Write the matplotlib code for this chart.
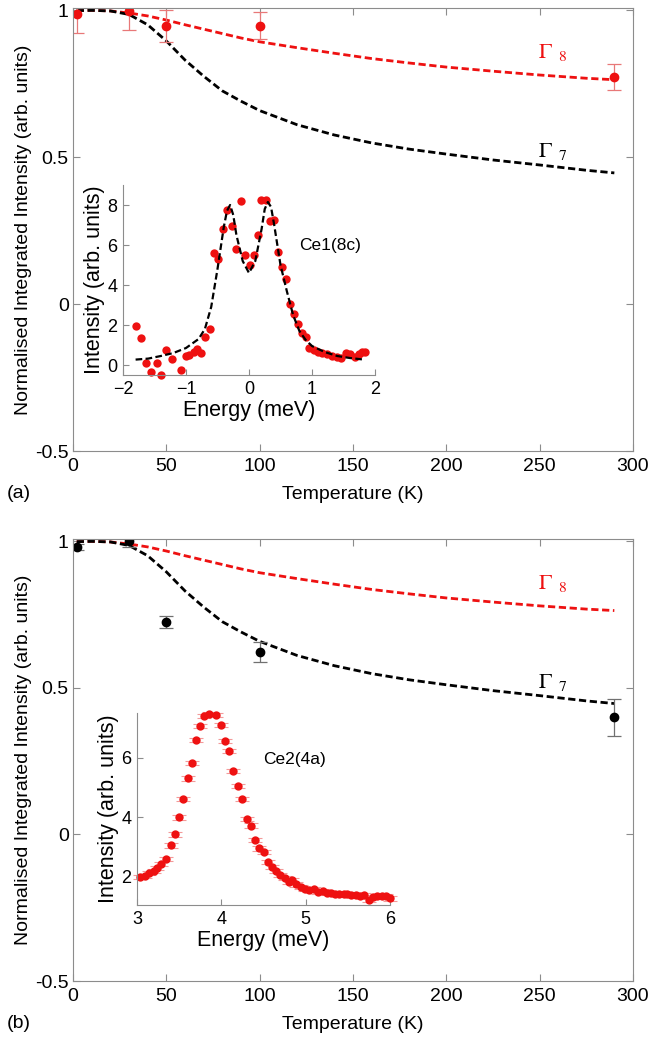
import matplotlib
matplotlib.use("Agg")
import matplotlib.pyplot as plt

plt.rcParams['font.family'] = ['Liberation Sans', 'DejaVu Sans']
plt.rcParams['mathtext.fontset'] = 'stix'

# model curves (same in both panels)
T_fit = [2, 10, 20, 30, 40, 50, 60, 70, 80, 90, 100, 120, 140, 160, 180, 200, 225, 250, 275, 290]
gamma8 = [0.998, 0.999, 0.997, 0.99, 0.98, 0.966, 0.95, 0.935, 0.92, 0.905, 0.892,
          0.872, 0.853, 0.835, 0.82, 0.806, 0.792, 0.779, 0.768, 0.763]
gamma7 = [0.998, 0.999, 0.997, 0.985, 0.95, 0.895, 0.83, 0.775, 0.725, 0.69, 0.658,
          0.61, 0.575, 0.548, 0.527, 0.51, 0.49, 0.473, 0.455, 0.446]

# panel (a) Ce1 data
T_a = [2, 30, 50, 100, 290]
I_a = [0.985, 0.998, 0.946, 0.946, 0.772]
err_a = [0.062, 0.066, 0.055, 0.046, 0.045]

# panel (b) Ce2 data
T_b = [2, 30, 50, 100, 290]
I_b = [0.981, 1.0, 0.723, 0.621, 0.399]
err_b = [0.01, 0.02, 0.02, 0.035, 0.064]

# inset (a) spectrum
E_a = [-1.786, -1.712, -1.627, -1.553, -1.458, -1.39, -1.31, -1.22, -1.073, -0.993,
       -0.95, -0.88, -0.82, -0.76, -0.703, -0.624, -0.56, -0.486, -0.412, -0.349,
       -0.275, -0.2, -0.132, -0.069, 0.01, 0.074, 0.137, 0.196, 0.27, 0.328,
       0.396, 0.454, 0.518, 0.587, 0.645, 0.713, 0.777, 0.84, 0.909, 0.956,
       1.025, 1.094, 1.157, 1.236, 1.316, 1.395, 1.464, 1.532, 1.606, 1.675,
       1.749, 1.791, 1.844]
S_a = [1.96, 1.36, 0.12, -0.33, 0.08, -0.5, 0.75, 0.28, -0.25, 0.46,
       0.5, 0.65, 0.8, 0.6, 1.41, 1.79, 5.59, 5.28, 6.8, 7.77,
       6.94, 5.81, 8.18, 5.48, 5.01, 5.48, 6.51, 8.25, 8.25, 7.22,
       7.27, 5.64, 4.9, 4.28, 3.04, 2.57, 2.04, 1.58, 1.41, 0.83,
       0.75, 0.66, 0.61, 0.55, 0.46, 0.38, 0.33, 0.58, 0.53, 0.41,
       0.55, 0.66, 0.66]
E_fit = [-1.8, -1.6, -1.4, -1.2, -1.0, -0.8, -0.7, -0.6, -0.5, -0.4, -0.35, -0.3,
         -0.25, -0.2, -0.1, 0.0, 0.1, 0.2, 0.25, 0.3, 0.35, 0.4, 0.5, 0.6, 0.7,
         0.8, 0.9, 1.0, 1.2, 1.4, 1.6, 1.8]
S_fit = [0.27, 0.32, 0.45, 0.6, 0.85, 1.3, 1.8, 2.9, 4.8, 6.9, 7.7, 8.0,
         7.5, 6.5, 5.2, 4.6, 5.2, 6.8, 7.8, 8.15, 7.9, 7.0, 5.0, 3.7, 2.5,
         1.7, 1.25, 0.95, 0.65, 0.45, 0.35, 0.28]

# inset (b) spectrum
E_b = [3.03, 3.09, 3.14, 3.2, 3.24, 3.29, 3.34, 3.4, 3.45, 3.5, 3.55, 3.6, 3.65,
       3.7, 3.75, 3.8, 3.85, 3.94, 4.0, 4.04, 4.09, 4.14, 4.2, 4.25, 4.3, 4.35,
       4.4, 4.45, 4.5, 4.55, 4.6, 4.65, 4.69, 4.75, 4.8, 4.84, 4.89, 4.94, 4.99,
       5.04, 5.1, 5.15, 5.2, 5.25, 5.3, 5.35, 5.4, 5.45, 5.49, 5.54, 5.6, 5.64,
       5.69, 5.75, 5.8, 5.85, 5.9, 5.95, 6.0]
S_b = [2.0, 2.03, 2.12, 2.2, 2.3, 2.42, 2.6, 3.05, 3.42, 3.99, 4.6, 5.3, 5.83,
       6.59, 7.05, 7.41, 7.46, 7.43, 7.09, 6.55, 6.21, 5.55, 5.04, 4.62, 3.95, 3.72,
       3.23, 2.95, 2.83, 2.5, 2.33, 2.18, 2.05, 1.97, 1.82, 1.88, 1.74, 1.65, 1.6,
       1.54, 1.6, 1.49, 1.52, 1.45, 1.45, 1.43, 1.43, 1.41, 1.41, 1.38, 1.37, 1.35,
       1.37, 1.23, 1.33, 1.35, 1.35, 1.35, 1.27]

W, H = 649, 1038
fig = plt.figure(figsize=(W / 100, H / 100), dpi=100)

def box(l, t, r, b):
    return [l / W, 1 - b / H, (r - l) / W, (b - t) / H]

spine_c = '#8c8c8c'
dash = (0, (2.6, 1.3))


def main_panel(rect, T, I, err, col, ecol, tag, tag_y):
    ax = fig.add_axes(rect)
    ax.plot(T_fit, gamma8, color='#ee1111', ls=dash, lw=2)
    ax.plot(T_fit, gamma7, color='black', ls=dash, lw=2)
    ax.errorbar(T, I, yerr=err, fmt='o', color=col, ms=6, ecolor=ecol,
                elinewidth=0.9, capsize=5, capthick=0.9, clip_on=True)
    ax.text(249, 0.836, r'$\Gamma_{\ \ 8}$', color='#ee1111', fontsize=16)
    ax.text(249, 0.5, r'$\Gamma_{\ \ 7}$', color='black', fontsize=16)
    ax.set_xlim(0, 300)
    ax.set_ylim(-0.5, 1.007)
    ax.set_xticks([0, 50, 100, 150, 200, 250, 300])
    ax.set_yticks([-0.5, 0, 0.5, 1])
    ax.set_yticklabels(['-0.5', '0', '0.5', '1'])
    ax.tick_params(direction='in', top=True, right=True, length=5,
                   color=spine_c, labelsize=14)
    ax.tick_params(axis='x', pad=5)
    ax.tick_params(axis='y', pad=3)
    for s in ax.spines.values():
        s.set_color(spine_c)
    ax.set_xlabel('Temperature (K)', fontsize=14, labelpad=8)
    ax.set_ylabel('Normalised Integrated Intensity (arb. units)', fontsize=14, labelpad=2)
    fig.text(7 / W, 1 - tag_y / H, tag, fontsize=14, va='center', ha='left')
    return ax


def inset_style(ax):
    for s in ['top', 'right']:
        ax.spines[s].set_visible(False)
    for s in ['left', 'bottom']:
        ax.spines[s].set_color(spine_c)
    ax.tick_params(direction='in', length=4, color=spine_c, labelsize=13, pad=4)
    ax.set_xlabel('Energy (meV)', fontsize=15.5, labelpad=2)
    ax.set_ylabel('Intensity (arb. units)', fontsize=15.5, labelpad=2)
    ax.patch.set_alpha(0)


# panel (a)
main_panel(box(73, 8, 633, 451), T_a, I_a, err_a, '#ee1111', '#e87878', '(a)', 493)
ins_a = fig.add_axes(box(123, 185, 375, 375))
ins_a.plot(E_a, S_a, 'o', color='#ee1111', ms=6, mec='none', clip_on=False)
ins_a.plot(E_fit, S_fit, color='black', ls=(0, (3, 1.5)), lw=1.6)
ins_a.set_xlim(-2, 2)
ins_a.set_ylim(-0.5, 9)
ins_a.set_xticks([-2, -1, 0, 1, 2])
ins_a.set_yticks([0, 2, 4, 6, 8])
ins_a.text(0.8, 6.0, 'Ce1(8c)', fontsize=12.5, va='center', ha='left')
inset_style(ins_a)

# panel (b)
main_panel(box(73, 539, 633, 981), T_b, I_b, err_b, 'black', '#707070', '(b)', 1023)
ins_b = fig.add_axes(box(137, 713, 390, 905))
ins_b.errorbar(E_b, S_b, yerr=0.07, fmt='o', color='#ee1111', ms=6, mec='none',
               ecolor='#f39a9a', elinewidth=0.7, capsize=5, capthick=0.8,
               clip_on=False)
ins_b.set_xlim(3, 6)
ins_b.set_ylim(1.05, 7.5)
ins_b.set_xticks([3, 4, 5, 6])
ins_b.set_yticks([2, 4, 6])
ins_b.text(4.5, 5.95, 'Ce2(4a)', fontsize=12.5, va='center', ha='left')
inset_style(ins_b)

fig.savefig('out.png', dpi=100)
